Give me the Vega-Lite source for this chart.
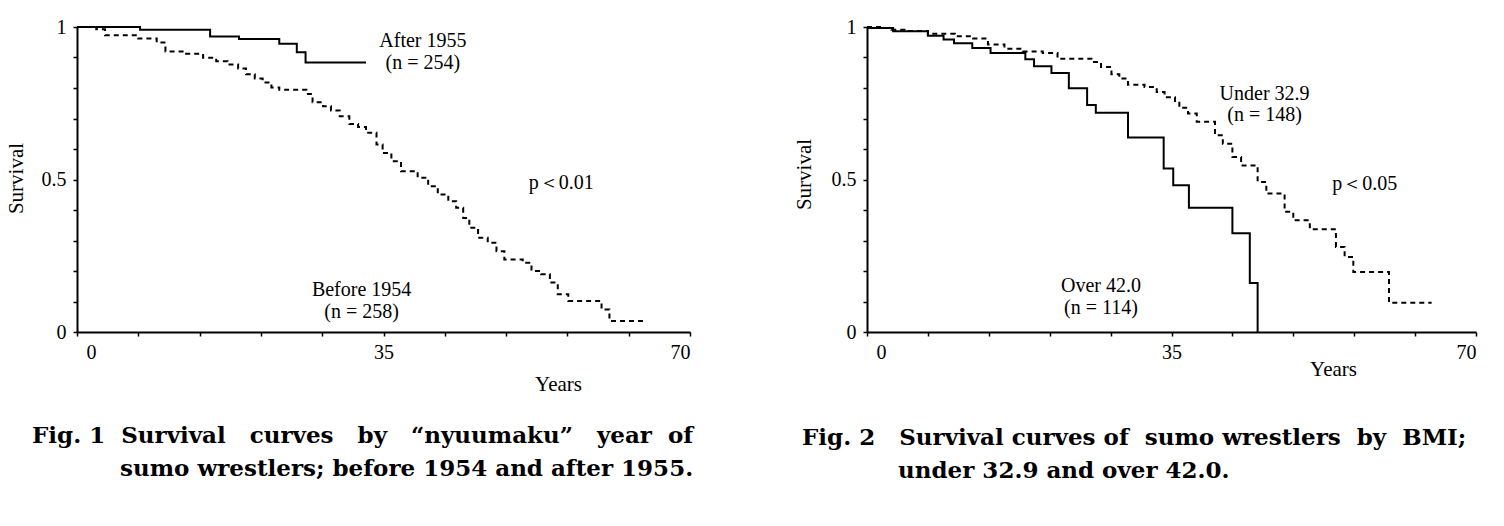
{
  "$schema": "https://vega.github.io/schema/vega-lite/v6.json",
  "background": "white",
  "padding": {"left": 5, "top": 17, "right": 5, "bottom": 5},
  "spacing": 99,
  "config": {
    "view": {"stroke": null},
    "axis": {
      "grid": false,
      "domainColor": "black",
      "domainWidth": 2,
      "tickColor": "black",
      "tickSize": 4,
      "tickWidth": 1.5,
      "labelOverlap": false,
      "labelFont": "Liberation Serif",
      "labelFontSize": 20,
      "labelColor": "black",
      "titleFont": "Liberation Serif",
      "titleFontSize": 21,
      "titleFontWeight": "normal",
      "titleColor": "black"
    },
    "title": {"font": "DejaVu Serif", "fontWeight": "bold", "fontSize": 23, "color": "black", "lineHeight": 33}
  },
  "datasets": {
    "fig1": [
      {"group": "After 1955", "t": 0, "s": 1.0},
      {"group": "After 1955", "t": 7.2, "s": 0.991},
      {"group": "After 1955", "t": 15.2, "s": 0.969},
      {"group": "After 1955", "t": 18.5, "s": 0.961},
      {"group": "After 1955", "t": 23.1, "s": 0.945},
      {"group": "After 1955", "t": 25.1, "s": 0.917},
      {"group": "After 1955", "t": 26.1, "s": 0.884},
      {"group": "After 1955", "t": 33.0, "s": 0.884},
      {"group": "Before 1954", "t": 0, "s": 1.0},
      {"group": "Before 1954", "t": 2.2, "s": 0.993},
      {"group": "Before 1954", "t": 3.2, "s": 0.973},
      {"group": "Before 1954", "t": 7.0, "s": 0.962},
      {"group": "Before 1954", "t": 9.1, "s": 0.949},
      {"group": "Before 1954", "t": 10.1, "s": 0.92},
      {"group": "Before 1954", "t": 12.3, "s": 0.912},
      {"group": "Before 1954", "t": 14.4, "s": 0.899},
      {"group": "Before 1954", "t": 15.9, "s": 0.888},
      {"group": "Before 1954", "t": 17.2, "s": 0.877},
      {"group": "Before 1954", "t": 18.4, "s": 0.864},
      {"group": "Before 1954", "t": 19.3, "s": 0.845},
      {"group": "Before 1954", "t": 20.3, "s": 0.831},
      {"group": "Before 1954", "t": 21.2, "s": 0.818},
      {"group": "Before 1954", "t": 22.2, "s": 0.802},
      {"group": "Before 1954", "t": 23.1, "s": 0.794},
      {"group": "Before 1954", "t": 26.2, "s": 0.78},
      {"group": "Before 1954", "t": 26.9, "s": 0.753},
      {"group": "Before 1954", "t": 28.1, "s": 0.74},
      {"group": "Before 1954", "t": 29.0, "s": 0.726},
      {"group": "Before 1954", "t": 30.0, "s": 0.707},
      {"group": "Before 1954", "t": 31.1, "s": 0.682},
      {"group": "Before 1954", "t": 32.1, "s": 0.672},
      {"group": "Before 1954", "t": 33.0, "s": 0.653},
      {"group": "Before 1954", "t": 34.2, "s": 0.615},
      {"group": "Before 1954", "t": 34.9, "s": 0.587},
      {"group": "Before 1954", "t": 35.9, "s": 0.56},
      {"group": "Before 1954", "t": 37.0, "s": 0.527},
      {"group": "Before 1954", "t": 38.9, "s": 0.506},
      {"group": "Before 1954", "t": 40.1, "s": 0.478},
      {"group": "Before 1954", "t": 41.2, "s": 0.451},
      {"group": "Before 1954", "t": 42.4, "s": 0.429},
      {"group": "Before 1954", "t": 43.3, "s": 0.407},
      {"group": "Before 1954", "t": 44.1, "s": 0.374},
      {"group": "Before 1954", "t": 44.8, "s": 0.342},
      {"group": "Before 1954", "t": 45.8, "s": 0.309},
      {"group": "Before 1954", "t": 46.9, "s": 0.293},
      {"group": "Before 1954", "t": 47.9, "s": 0.265},
      {"group": "Before 1954", "t": 48.8, "s": 0.238},
      {"group": "Before 1954", "t": 50.9, "s": 0.227},
      {"group": "Before 1954", "t": 51.9, "s": 0.2},
      {"group": "Before 1954", "t": 53.0, "s": 0.189},
      {"group": "Before 1954", "t": 54.0, "s": 0.162},
      {"group": "Before 1954", "t": 54.9, "s": 0.124},
      {"group": "Before 1954", "t": 56.1, "s": 0.102},
      {"group": "Before 1954", "t": 59.9, "s": 0.074},
      {"group": "Before 1954", "t": 60.8, "s": 0.036},
      {"group": "Before 1954", "t": 64.8, "s": 0.036}
    ],
    "fig2": [
      {"group": "Over 42.0", "t": 0, "s": 0.997},
      {"group": "Over 42.0", "t": 3.0, "s": 0.986},
      {"group": "Over 42.0", "t": 7.0, "s": 0.971},
      {"group": "Over 42.0", "t": 8.8, "s": 0.959},
      {"group": "Over 42.0", "t": 10.0, "s": 0.947},
      {"group": "Over 42.0", "t": 12.1, "s": 0.931},
      {"group": "Over 42.0", "t": 14.2, "s": 0.915},
      {"group": "Over 42.0", "t": 18.2, "s": 0.894},
      {"group": "Over 42.0", "t": 19.2, "s": 0.871},
      {"group": "Over 42.0", "t": 21.2, "s": 0.849},
      {"group": "Over 42.0", "t": 23.2, "s": 0.799},
      {"group": "Over 42.0", "t": 25.3, "s": 0.744},
      {"group": "Over 42.0", "t": 26.3, "s": 0.719},
      {"group": "Over 42.0", "t": 30.0, "s": 0.638},
      {"group": "Over 42.0", "t": 34.1, "s": 0.536},
      {"group": "Over 42.0", "t": 35.2, "s": 0.481},
      {"group": "Over 42.0", "t": 37.0, "s": 0.407},
      {"group": "Over 42.0", "t": 42.0, "s": 0.324},
      {"group": "Over 42.0", "t": 44.0, "s": 0.161},
      {"group": "Over 42.0", "t": 44.9, "s": 0.0},
      {"group": "Under 32.9", "t": 0, "s": 1.0},
      {"group": "Under 32.9", "t": 2.0, "s": 0.997},
      {"group": "Under 32.9", "t": 2.8, "s": 0.991},
      {"group": "Under 32.9", "t": 4.3, "s": 0.987},
      {"group": "Under 32.9", "t": 7.0, "s": 0.978},
      {"group": "Under 32.9", "t": 10.1, "s": 0.97},
      {"group": "Under 32.9", "t": 12.2, "s": 0.962},
      {"group": "Under 32.9", "t": 13.9, "s": 0.943},
      {"group": "Under 32.9", "t": 15.8, "s": 0.929},
      {"group": "Under 32.9", "t": 17.9, "s": 0.92},
      {"group": "Under 32.9", "t": 20.2, "s": 0.915},
      {"group": "Under 32.9", "t": 21.9, "s": 0.896},
      {"group": "Under 32.9", "t": 25.8, "s": 0.885},
      {"group": "Under 32.9", "t": 26.9, "s": 0.869},
      {"group": "Under 32.9", "t": 28.1, "s": 0.845},
      {"group": "Under 32.9", "t": 29.0, "s": 0.831},
      {"group": "Under 32.9", "t": 30.0, "s": 0.811},
      {"group": "Under 32.9", "t": 31.9, "s": 0.803},
      {"group": "Under 32.9", "t": 33.3, "s": 0.787},
      {"group": "Under 32.9", "t": 34.2, "s": 0.77},
      {"group": "Under 32.9", "t": 35.4, "s": 0.752},
      {"group": "Under 32.9", "t": 35.9, "s": 0.735},
      {"group": "Under 32.9", "t": 36.9, "s": 0.716},
      {"group": "Under 32.9", "t": 37.9, "s": 0.689},
      {"group": "Under 32.9", "t": 40.0, "s": 0.645},
      {"group": "Under 32.9", "t": 40.9, "s": 0.617},
      {"group": "Under 32.9", "t": 42.0, "s": 0.574},
      {"group": "Under 32.9", "t": 43.0, "s": 0.546},
      {"group": "Under 32.9", "t": 44.9, "s": 0.492},
      {"group": "Under 32.9", "t": 45.9, "s": 0.454},
      {"group": "Under 32.9", "t": 48.0, "s": 0.394},
      {"group": "Under 32.9", "t": 49.0, "s": 0.366},
      {"group": "Under 32.9", "t": 50.9, "s": 0.337},
      {"group": "Under 32.9", "t": 53.9, "s": 0.279},
      {"group": "Under 32.9", "t": 54.9, "s": 0.246},
      {"group": "Under 32.9", "t": 55.9, "s": 0.197},
      {"group": "Under 32.9", "t": 60.0, "s": 0.096},
      {"group": "Under 32.9", "t": 64.9, "s": 0.096}
    ],
    "labels1": [
      {"t": 39.5, "s": 0.955, "label": "After 1955"},
      {"t": 39.5, "s": 0.883, "label": "(n = 254)"},
      {"t": 55.3, "s": 0.49, "label": "p＜0.01"},
      {"t": 32.5, "s": 0.139, "label": "Before 1954"},
      {"t": 32.5, "s": 0.067, "label": "(n = 258)"}
    ],
    "labels2": [
      {"t": 45.7, "s": 0.78, "label": "Under 32.9"},
      {"t": 45.7, "s": 0.711, "label": "(n = 148)"},
      {"t": 57.2, "s": 0.485, "label": "p＜0.05"},
      {"t": 26.9, "s": 0.151, "label": "Over 42.0"},
      {"t": 26.9, "s": 0.079, "label": "(n = 114)"}
    ]
  },
  "hconcat": [
    {
      "width": 613,
      "height": 305,
      "title": {
        "text": ["Fig. 1\u00a0\u00a0Survival\u00a0\u00a0\u00a0curves\u00a0\u00a0\u00a0by\u00a0\u00a0\u00a0“nyuumaku”\u00a0\u00a0\u00a0year\u00a0\u00a0of", "\u200b\u00a0\u00a0\u00a0\u00a0\u00a0\u00a0\u00a0\u00a0\u00a0\u00a0\u00a0sumo wrestlers; before 1954 and after 1955."],
        "orient": "bottom",
        "anchor": "start",
        "frame": "group",
        "dx": -45,
        "offset": 31
      },
      "resolve": {"axis": {"y": "independent"}},
      "layer": [
        {
          "data": {"name": "fig1"},
          "mark": {"type": "line", "interpolate": "step-after", "color": "black", "strokeWidth": 2},
          "encoding": {
            "x": {
              "field": "t", "type": "quantitative",
              "scale": {"domain": [0, 70], "nice": false, "zero": false},
              "axis": {
                "title": "Years",
                "values": [0, 7, 14, 21, 28, 35, 42, 49, 56, 63, 70],
                "labelExpr": "datum.value == 0 || datum.value == 35 || datum.value == 70 ? datum.label : ''",
                "labelOffset": {"condition": {"test": "datum.value == 0", "value": 9}, "value": 0},
                "labelPadding": 6,
                "titleX": 481, "titleY": 52, "titleAlign": "center", "titleBaseline": "middle"
              }
            },
            "y": {
              "field": "s", "type": "quantitative",
              "scale": {"domain": [0, 1], "nice": false},
              "axis": {
                "title": "Survival",
                "values": [0, 0.5, 1],
                "labelExpr": "datum.value == 1 ? '1' : datum.value == 0 ? '0' : '0.5'",
                "labelPadding": 7,
                "titleX": -61, "titleY": 151, "titleAlign": "center", "titleBaseline": "middle"
              }
            },
            "strokeDash": {
              "field": "group", "type": "nominal",
              "scale": {"domain": ["After 1955", "Before 1954"], "range": [[1, 0], [5, 4]]},
              "legend": null
            }
          }
        },
        {
          "data": {"name": "fig1"},
          "mark": {"type": "point", "opacity": 0},
          "encoding": {
            "x": {"field": "t", "type": "quantitative"},
            "y": {
              "field": "s", "type": "quantitative",
              "axis": {"orient": "left", "values": [0.1, 0.2, 0.3, 0.4, 0.6, 0.7, 0.8, 0.9], "labels": false, "domain": false, "title": null}
            }
          }
        },
        {
          "data": {"name": "labels1"},
          "mark": {"type": "text", "font": "Liberation Serif", "fontSize": 20, "color": "black", "baseline": "middle"},
          "encoding": {
            "x": {"field": "t", "type": "quantitative"},
            "y": {"field": "s", "type": "quantitative", "axis": null},
            "text": {"field": "label"}
          }
        }
      ]
    },
    {
      "width": 609,
      "height": 305,
      "title": {
        "text": ["Fig. 2\u00a0\u00a0\u00a0Survival curves of\u00a0\u00a0sumo wrestlers\u00a0\u00a0by\u00a0\u00a0BMI;", "\u200b\u00a0\u00a0\u00a0\u00a0\u00a0\u00a0\u00a0\u00a0\u00a0\u00a0\u00a0\u00a0under 32.9 and over 42.0."],
        "orient": "bottom",
        "anchor": "start",
        "frame": "group",
        "dx": -65,
        "offset": 48
      },
      "resolve": {"axis": {"y": "independent"}},
      "layer": [
        {
          "data": {"name": "fig2"},
          "mark": {"type": "line", "interpolate": "step-after", "color": "black", "strokeWidth": 2},
          "encoding": {
            "x": {
              "field": "t", "type": "quantitative",
              "scale": {"domain": [0, 70], "nice": false, "zero": false},
              "axis": {
                "title": "Years",
                "values": [0, 7, 14, 21, 28, 35, 42, 49, 56, 63, 70],
                "labelExpr": "datum.value == 0 || datum.value == 35 || datum.value == 70 ? datum.label : ''",
                "labelOffset": {"condition": {"test": "datum.value == 0", "value": 9}, "value": 0},
                "labelPadding": 6,
                "titleX": 466, "titleY": 37, "titleAlign": "center", "titleBaseline": "middle"
              }
            },
            "y": {
              "field": "s", "type": "quantitative",
              "scale": {"domain": [0, 1], "nice": false},
              "axis": {
                "title": "Survival",
                "values": [0, 0.5, 1],
                "labelExpr": "datum.value == 1 ? '1' : datum.value == 0 ? '0' : '0.5'",
                "labelPadding": 7,
                "titleX": -63, "titleY": 147, "titleAlign": "center", "titleBaseline": "middle"
              }
            },
            "strokeDash": {
              "field": "group", "type": "nominal",
              "scale": {"domain": ["Over 42.0", "Under 32.9"], "range": [[1, 0], [5, 4]]},
              "legend": null
            }
          }
        },
        {
          "data": {"name": "fig2"},
          "mark": {"type": "point", "opacity": 0},
          "encoding": {
            "x": {"field": "t", "type": "quantitative"},
            "y": {
              "field": "s", "type": "quantitative",
              "axis": {"orient": "left", "values": [0.1, 0.2, 0.3, 0.4, 0.6, 0.7, 0.8, 0.9], "labels": false, "domain": false, "title": null}
            }
          }
        },
        {
          "data": {"name": "labels2"},
          "mark": {"type": "text", "font": "Liberation Serif", "fontSize": 20, "color": "black", "baseline": "middle"},
          "encoding": {
            "x": {"field": "t", "type": "quantitative"},
            "y": {"field": "s", "type": "quantitative", "axis": null},
            "text": {"field": "label"}
          }
        }
      ]
    }
  ]
}
